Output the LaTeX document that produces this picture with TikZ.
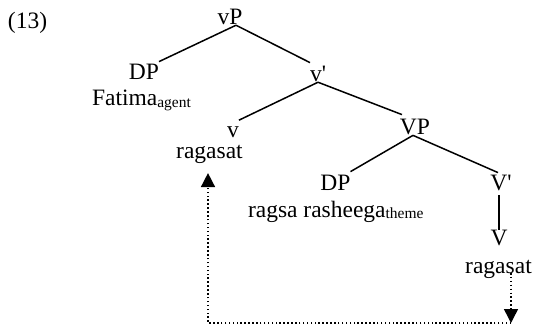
\documentclass[tikz,border=0pt]{standalone}
\usepackage{fontspec}
\setmainfont{Liberation Serif}
\usetikzlibrary{arrows.meta}
\newcommand\treefont{\fontsize{23.5}{28}\selectfont}
\newcommand\lowsub[1]{\raisebox{-1.5pt}{\fontsize{15.5}{17}\selectfont #1}}
\tikzset{
  lbl/.style={inner sep=0pt, outer sep=0pt, anchor=base, font=\treefont},
  branch/.style={line width=1.5pt},
  mv/.style={line width=1.5pt, dash pattern=on 1.5pt off 2.4pt,
    -{Triangle[width=14pt,length=14pt]}},
}
\begin{document}
\begin{tikzpicture}[x=1pt,y=-1pt]
\useasboundingbox[fill=white] (0,0) rectangle (536,329);

% example number
\node[lbl, anchor=base west] (ex) at (8,29) {(13)};

% tree labels
\node[lbl] (vP)   at (230,25)  {vP};
\node[lbl] (DPa)  at (144,80)  {DP};
\node[lbl, anchor=base west] (fat) at (92,106) {Fatima\lowsub{agent}};
\node[lbl] (vbar) at (318,82)  {v\textquotesingle};
\node[lbl] (vs)   at (233,137) {v};
\node[lbl] (rag1) at (209.5,158) {ragasat};
\node[lbl] (VP)   at (415,135) {VP};
\node[lbl] (DPb)  at (335.5,190) {DP};
\node[lbl] (Vbar) at (501,190) {V\textquotesingle};
\node[lbl, anchor=base west] (rr) at (248,217) {ragsa rasheega\lowsub{theme}};
\node[lbl] (Vs)   at (499,245) {V};
\node[lbl] (rag2) at (498.5,273) {ragasat};

% branches
\draw[branch] ([xshift=6pt]vP.south) -- ([yshift=3pt]DPa.north east);
\draw[branch] ([xshift=6pt]vP.south) -- ([yshift=4pt]vbar.north west);
\draw[branch] (vbar.south) -- ([yshift=6pt]vs.north east);
\draw[branch] (vbar.south) -- ([xshift=2pt,yshift=5pt]VP.north west);
\draw[branch] ([xshift=-2pt]VP.south) -- ([yshift=3pt]DPb.north east);
\draw[branch] ([xshift=-2pt]VP.south) -- ([xshift=-3pt,yshift=2pt]Vbar.north);
\draw[branch, shorten >=5pt] (Vs.north) -- (Vs.north |- Vbar.south);

% head movement
\coordinate (turn) at (511,323);
\draw[mv] ([xshift=12.5pt]rag2.base) -- (turn);
\draw[mv] (turn) -| ([xshift=-1.5pt,yshift=-10pt]rag1.south);
\end{tikzpicture}
\end{document}
